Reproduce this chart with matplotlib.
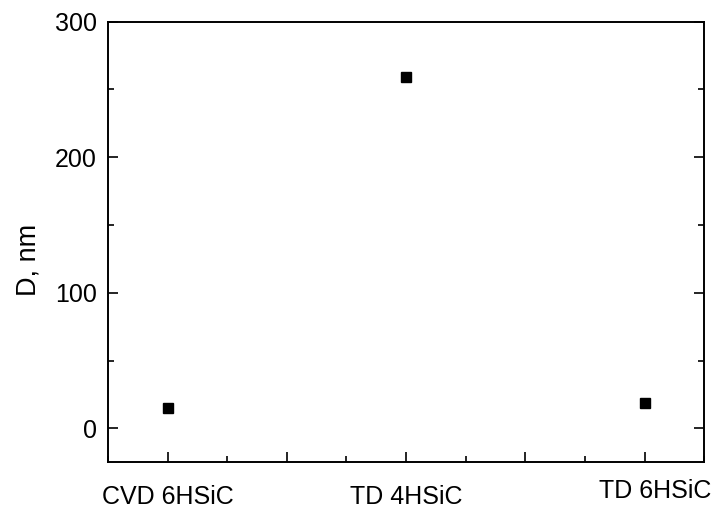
import matplotlib
matplotlib.use("Agg")
import matplotlib.pyplot as plt
from matplotlib.ticker import MultipleLocator
import matplotlib.transforms as mtransforms

samples = ["CVD 6HSiC", "TD 4HSiC", "TD 6HSiC"]
D_nm = [15, 259, 19]

plt.rcParams["font.family"] = ["Liberation Sans", "DejaVu Sans"]

fig = plt.figure(figsize=(7.2, 5.12), dpi=100)
ax = fig.add_axes([0.15, 0.097, 0.828, 0.861])

x = list(range(len(samples)))
ax.plot(x, D_nm, "s", color="black", markersize=6.5, linestyle="none")

ax.set_xlim(-0.25, 2.25)
ax.set_ylim(-25, 300)

ax.xaxis.set_minor_locator(MultipleLocator(0.25))
ax.yaxis.set_major_locator(MultipleLocator(100))
ax.yaxis.set_minor_locator(MultipleLocator(50))

ticks = [i * 0.5 for i in range(5)]
labels = []
for t in ticks:
    if t == int(t):
        labels.append(samples[int(t)])
    else:
        labels.append("")
ax.set_xticks(ticks)
ax.set_xticklabels(labels)

ax.tick_params(axis="both", which="major", direction="in", length=7, width=1.2,
               labelsize=18, top=False, right=True)
ax.tick_params(axis="both", which="minor", direction="in", length=4, width=1.2,
               top=False, right=True)
ax.tick_params(axis="x", which="major", pad=16)
ax.tick_params(axis="y", which="major", pad=8)

# last label sits a bit higher and to the right in the original
lab = ax.get_xticklabels()[4]
lab.set_transform(lab.get_transform() + mtransforms.ScaledTranslation(8 / 72, 4 / 72, fig.dpi_scale_trans))

for s in ax.spines.values():
    s.set_linewidth(1.4)

ax.set_ylabel("D, nm", fontsize=19.5)
ax.yaxis.set_label_coords(-0.111, 0.459)

fig.savefig("out.png", dpi=100)
